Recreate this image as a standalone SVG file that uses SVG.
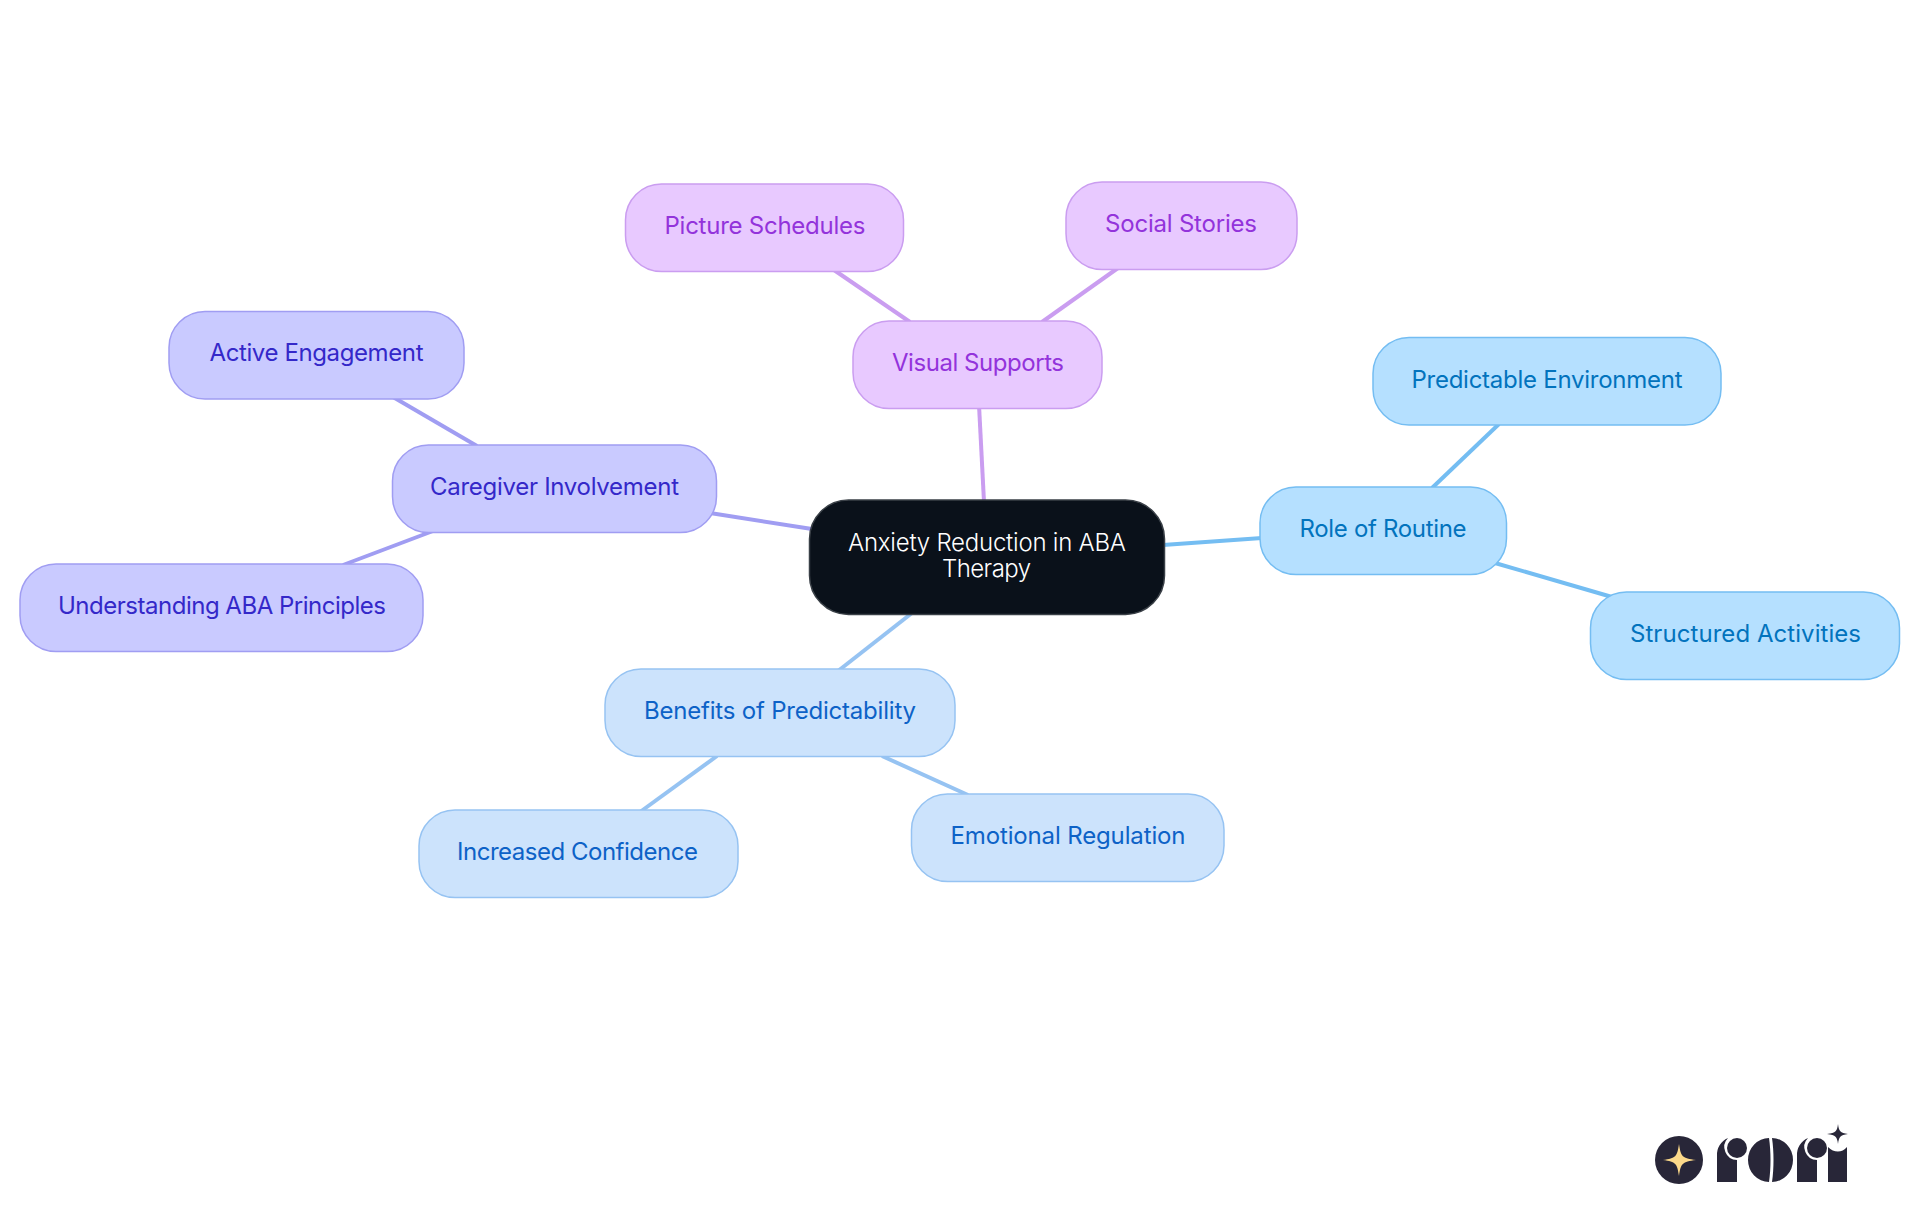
<svg xmlns="http://www.w3.org/2000/svg" width="1920" height="1215" viewBox="0 0 1920 1215">
<style>
text{font-family:"Inter","Noto Sans","Liberation Sans",sans-serif;font-size:24px;text-anchor:middle;font-weight:400}
.n{stroke-width:1.5}
.c{fill:none;stroke-width:4}
.sky rect{fill:#b5e0ff;stroke:#74bdf2}.sky text{fill:#0273bd}
.blue rect{fill:#cce3fc;stroke:#96c3f2}.blue text{fill:#0d62c7}
.ind rect{fill:#c9caff;stroke:#a09df2}.ind text{fill:#3428c9}
.pur rect{fill:#e8c9ff;stroke:#ca9df0}.pur text{fill:#9333db}
</style>
<rect width="1920" height="1215" fill="#fff"/>
<g id="connectors">
<g class="c" stroke="#ca9df0"><path d="M979 405L984 502"/><path d="M834 270L910 322"/><path d="M1118 268L1042 322"/></g>
<g class="c" stroke="#a09df2"><path d="M710 513L812 529"/><path d="M393 397L477 446"/><path d="M343 565L433 531"/></g>
<g class="c" stroke="#74bdf2"><path d="M1163 545L1262 538"/><path d="M1499 424L1432 488"/><path d="M1495 563L1612 597"/></g>
<g class="c" stroke="#96c3f2"><path d="M912 613L838 671"/><path d="M717 756L640 812"/><path d="M882 756L968 795"/></g>
</g>
<g id="center"><rect x="809.500" y="500" width="355" height="114.500" rx="39" fill="#0a111a" stroke="#3a4047" stroke-width="1.500"/>
<text x="987" y="551" fill="#fff" textLength="278" lengthAdjust="spacing" style="font-weight:300">Anxiety Reduction in ABA</text><text x="986.500" y="577" fill="#fff" textLength="89" lengthAdjust="spacing" style="font-weight:300">Therapy</text></g>
<g id="visual-supports" class="pur"><rect class="n" x="853" y="321" width="249" height="87.500" rx="36"/><text x="978" y="371" textLength="172" lengthAdjust="spacing">Visual Supports</text></g>
<g id="picture-schedules" class="pur"><rect class="n" x="625.500" y="184" width="278" height="87.500" rx="36"/><text x="765" y="234" textLength="201" lengthAdjust="spacing">Picture Schedules</text></g>
<g id="social-stories" class="pur"><rect class="n" x="1066" y="182" width="231" height="87.500" rx="36"/><text x="1181" y="232" textLength="152" lengthAdjust="spacing">Social Stories</text></g>
<g id="caregiver" class="ind"><rect class="n" x="392.500" y="445" width="324" height="87.500" rx="36"/><text x="554.500" y="495" textLength="249" lengthAdjust="spacing">Caregiver Involvement</text></g>
<g id="active" class="ind"><rect class="n" x="169" y="311.500" width="295" height="87.500" rx="36"/><text x="316.500" y="361" textLength="214" lengthAdjust="spacing">Active Engagement</text></g>
<g id="understanding" class="ind"><rect class="n" x="20" y="564" width="403" height="87.500" rx="36"/><text x="222" y="614" textLength="328" lengthAdjust="spacing">Understanding ABA Principles</text></g>
<g id="routine" class="sky"><rect class="n" x="1260" y="487" width="246.500" height="87.500" rx="36"/><text x="1383" y="537" textLength="167" lengthAdjust="spacing">Role of Routine</text></g>
<g id="predictable" class="sky"><rect class="n" x="1373" y="337.500" width="348" height="87.500" rx="36"/><text x="1547" y="388" textLength="271" lengthAdjust="spacing">Predictable Environment</text></g>
<g id="structured" class="sky"><rect class="n" x="1590.500" y="592" width="309" height="87.500" rx="36"/><text x="1745.500" y="642" textLength="231" lengthAdjust="spacing">Structured Activities</text></g>
<g id="benefits" class="blue"><rect class="n" x="605" y="669" width="350" height="87.500" rx="36"/><text x="780" y="719" textLength="272" lengthAdjust="spacing">Benefits of Predictability</text></g>
<g id="confidence" class="blue"><rect class="n" x="419" y="810" width="319" height="87.500" rx="36"/><text x="577.500" y="860" textLength="241" lengthAdjust="spacing">Increased Confidence</text></g>
<g id="emotional" class="blue"><rect class="n" x="911.500" y="794" width="312.500" height="87.500" rx="36"/><text x="1068" y="844" textLength="235" lengthAdjust="spacing">Emotional Regulation</text></g>
<g id="logo" fill="#282638">
<circle cx="1679" cy="1160" r="24"/>
<path d="M1679 1144C1681 1157 1682 1158 1696 1160C1682 1162 1681 1163 1679 1176C1677 1163 1676 1162 1663 1160C1676 1158 1677 1157 1679 1144Z" fill="#fcd98a"/>
<path d="M1717 1182V1156A18 18 0 0 1 1728 1138A13 13 0 0 0 1737 1160V1182Z"/><circle cx="1737" cy="1148" r="10"/>
<path d="M1769 1138A21 22 0 0 0 1769 1182C1771 1168 1771 1152 1769 1138ZM1772 1138C1774 1152 1774 1168 1772 1182A21 22 0 0 0 1772 1138Z"/>
<path d="M1797 1182V1156A18 18 0 0 1 1808 1138A13 13 0 0 0 1817 1160V1182Z"/><circle cx="1817" cy="1148" r="10"/>
<path d="M1828 1182V1147C1834 1153 1842 1153 1847 1147V1182Z"/>
<path d="M1838 1124C1839 1131 1840 1133 1848 1134C1840 1135 1839 1137 1838 1144C1837 1137 1836 1135 1827 1134C1836 1133 1837 1131 1838 1124Z"/>
</g>
</svg>
